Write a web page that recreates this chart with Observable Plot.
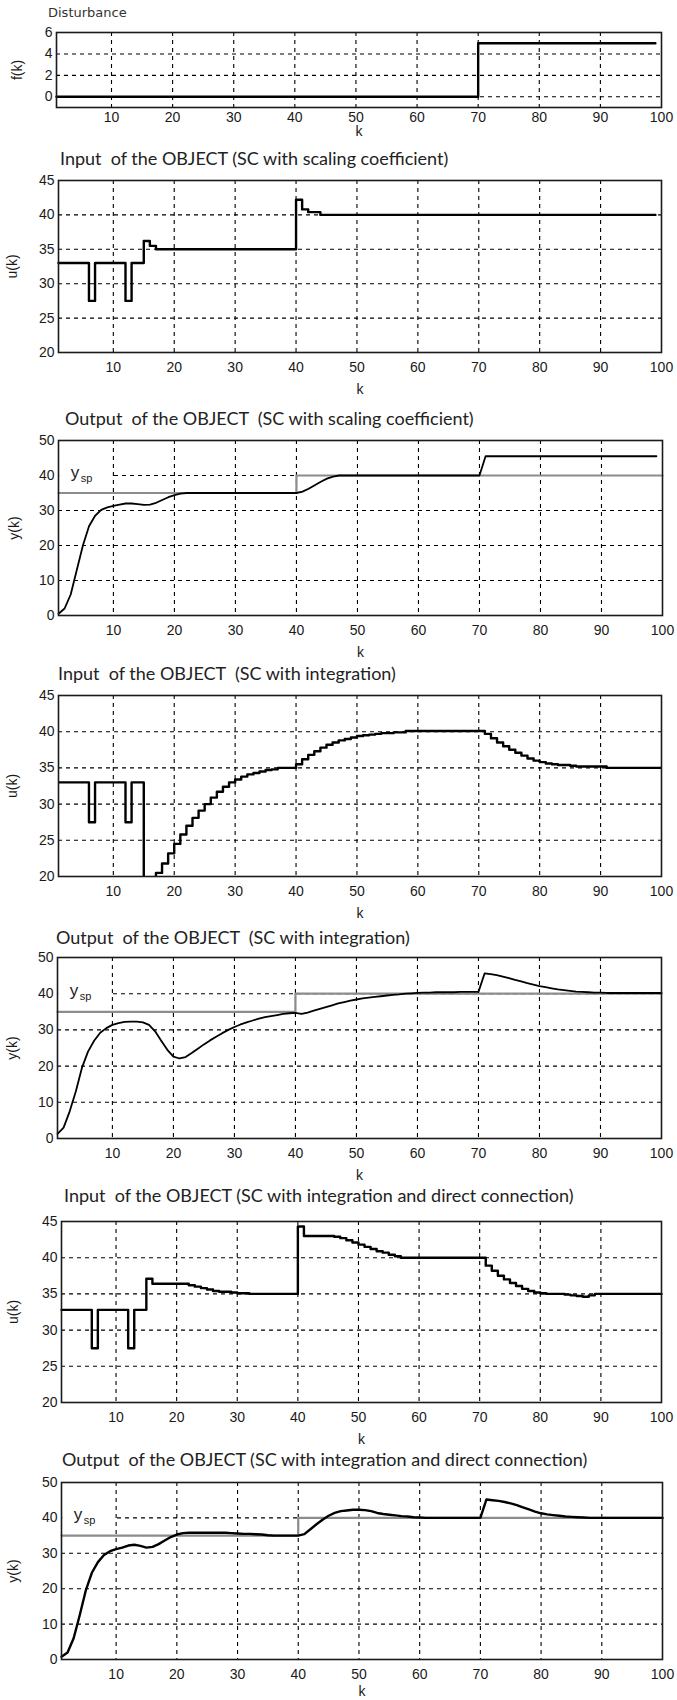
<!DOCTYPE html>
<html><head><meta charset="utf-8">
<script src="https://cdn.jsdelivr.net/npm/d3@7"></script>
<script src="https://cdn.jsdelivr.net/npm/@observablehq/plot@0.6"></script>
<style>
body{margin:0;background:#fff;}
#root{position:relative;width:677px;height:1700px;overflow:hidden;background:#fff;}
.title{position:absolute;font-family:Lato,"Open Sans",sans-serif;font-size:18px;white-space:pre;color:#222;line-height:20px;}
.title.dist{font-family:"DejaVu Sans",sans-serif;font-size:13px;color:#333;line-height:16px;}
svg{position:absolute;left:0;}
</style></head><body><div id="root"></div>
<script>
// ---------- data ----------
const kTicks = [10, 20, 30, 40, 50, 60, 70, 80, 90, 100];
const kGrid = [10, 20, 30, 40, 50, 60, 70, 80, 90];

// Panel 1: disturbance f(k) (stairs, change points)
const distK = [1, 70, 99];
const distF = [0, 5, 5];
const fTicks = [0, 2, 4, 6];

// Panel 2: input, SC with scaling coefficient (stairs, change points)
const u1K = [1, 6, 7, 12, 13, 15, 16, 17, 40, 41, 42, 44, 99];
const u1V = [33, 27.5, 33, 27.5, 33, 36.2, 35.5, 35, 42.2, 40.8, 40.4, 40.0, 40.0];
const uTicks = [20, 25, 30, 35, 40, 45];

// Panel 3: output, SC with scaling coefficient
const y1K = [1,2,3,4,5,6,7,8,9,10,11,12,13,14,15,16,17,18,19,20,21,22,40,41,42,43,44,45,46,47,70,71,99];
const y1V = [0.5,2,6,13,20,25.5,28.5,30.2,30.9,31.3,31.7,32,32,31.8,31.6,31.7,32.2,33,33.8,34.4,34.8,35,35,35.4,36.2,37.2,38.2,39.1,39.7,40,40,45.5,45.5];
const yTicks = [0, 10, 20, 30, 40, 50];

// set point y_sp (stairs)
const spK = [1, 40, 100];
const spV = [35, 40, 40];

// Panel 4: input, SC with integration (stairs, one value per k = 1..100)
const u2V = [33,33,33,33,33,27.5,33,33,33,33,33,27.5,33,33,12,16,
  20.5,21.8,23.2,24.5,25.8,27,28.1,29.1,30,30.9,31.7,32.4,33,33.4,33.8,34.1,34.3,34.5,34.7,34.8,35,35,35,
  35.5,36.2,36.8,37.3,37.8,38.2,38.5,38.8,39.0,39.2,39.4,39.5,39.6,39.7,39.8,39.8,39.9,39.9,
  40.1,40.1,40.1,40.1,40.1,40.1,40.1,40.1,40.1,40.1,40.1,40.1,40.1,
  39.7,39.1,38.5,38.0,37.5,37.1,36.7,36.3,36.0,35.8,35.6,35.5,35.4,35.4,35.3,35.2,35.2,35.2,35.2,35.2,
  35,35,35,35,35,35,35,35,35,35];

// Panel 5: output, SC with integration (one value per k = 1..100)
const y2V = [1.3,3,7.5,13,19.5,24,27,29.2,30.5,31.4,
  31.9,32.2,32.3,32.3,32.1,31.4,29.6,27,24.5,22.6,
  22.1,22.5,23.6,24.8,26,27.1,28.1,29.1,30,30.8,
  31.5,32.1,32.6,33.1,33.5,33.8,34.1,34.4,34.6,34.7,
  34.4,34.8,35.3,35.8,36.3,36.8,37.3,37.7,38.1,38.4,
  38.7,38.9,39.1,39.3,39.5,39.7,39.8,40,40.1,40.2,
  40.3,40.3,40.4,40.4,40.4,40.4,40.5,40.5,40.5,40.5,
  45.6,45.4,45.1,44.7,44.3,43.8,43.4,42.9,42.5,42.1,
  41.8,41.5,41.2,41.0,40.8,40.6,40.5,40.4,40.3,40.3,
  40.2,40.2,40.2,40.2,40.2,40.2,40.2,40.2,40.2,40.2];

// Panel 6: input, SC with integration and direct connection (stairs, change points)
const u3K = [1,6,7,12,13,15,16,22,23,24,25,26,27,29,30,32,
  40,41,46,47,48,49,50,51,52,53,54,55,56,57,
  71,72,73,74,75,76,77,78,79,80,81,84,85,86,87,88,89,100];
const u3V = [32.8,27.5,32.8,27.5,32.8,37.1,36.4,36.2,36.0,35.8,35.6,35.4,35.3,35.2,35.1,35.0,
  44.3,43.0,42.9,42.7,42.4,42.1,41.8,41.5,41.2,40.9,40.7,40.4,40.2,40.0,
  38.9,38.2,37.5,37.0,36.5,36.1,35.7,35.4,35.2,35.1,35.0,34.9,34.8,34.7,34.6,34.8,35.0,35.0];

// Panel 7: output, SC with integration and direct connection (one value per k = 1..100)
const y3V = [0.8,2,6,12.5,19.5,24.5,27.5,29.5,30.6,31.2,
  31.6,32.2,32.4,32.1,31.6,31.8,32.6,33.6,34.6,35.3,
  35.7,35.8,35.8,35.8,35.8,35.8,35.8,35.8,35.7,35.6,
  35.5,35.5,35.4,35.3,35.1,35.0,35.0,35.0,35.0,35.0,
  35.4,36.8,38.2,39.5,40.6,41.4,41.9,42.1,42.3,42.3,
  42.2,41.9,41.4,41.1,40.9,40.7,40.5,40.4,40.2,40.1,
  40,40,40,40,40,40,40,40,40,40,
  45.2,45.0,44.8,44.5,44.1,43.6,43.0,42.4,41.8,41.3,
  41.0,40.8,40.6,40.4,40.3,40.2,40.1,40,40,40,
  40,40,40,40,40,40,40,40,40,40];

// ---------- helpers ----------
const rows = (ks, vs) => ks.map((k, i) => ({k, v: vs[i]}));
const perK = (vs) => vs.map((v, i) => ({k: i + 1, v}));

const root = document.getElementById("root");
const W = 677;
const gridStyle = {stroke: "#000", strokeOpacity: 1, strokeWidth: 1.1, strokeDasharray: "4,4"};

function spMarks() {
  // "y_sp" label with white box hiding the grid behind it
  const lab = [{k: 3, v: 40}];
  return [
    Plot.rect(lab, {x1: 1.2, x2: 9.7, y1: 37.6, y2: 42.4, fill: "white"}),
    Plot.line(rows(spK, spV), {x: "k", y: "v", curve: "step-after", stroke: "#8c8c8c", strokeWidth: 2.2}),
    Plot.text(lab, {x: "k", y: "v", text: () => "y", fontSize: 17, textAnchor: "start", fill: "#222", dy: -3}),
    Plot.text(lab, {x: "k", y: "v", text: () => "sp", fontSize: 11, textAnchor: "start", fill: "#222", dx: 10, dy: 3})
  ];
}

function panel(cfg) {
  const mt = 12, mb = 48;
  const svg = Plot.plot({
    width: W,
    height: (cfg.bottom - cfg.top) + mt + mb,
    marginTop: mt, marginBottom: mb,
    marginLeft: cfg.left, marginRight: W - cfg.right,
    style: {fontFamily: "'Liberation Sans', Arial, sans-serif", fontSize: "14px", color: "#1a1a1a", background: "transparent"},
    x: {domain: [1, 100]},
    y: {domain: cfg.yDomain},
    marks: [
      Plot.gridX({ticks: kGrid, ...gridStyle}),
      Plot.gridY({ticks: cfg.yGrid, ...gridStyle}),
      ...(cfg.pre || []),
      ...cfg.marks,
      Plot.frame({stroke: "#1a1a1a", strokeWidth: 1.6}),
      Plot.axisX({ticks: kTicks, tickFormat: "d", tickSize: 0, tickPadding: cfg.tickPad ?? 10, fontSize: 14, label: "k", labelAnchor: "center", labelArrow: "none", labelOffset: cfg.kOff ?? 41}),
      Plot.axisY({ticks: cfg.yTicks, tickFormat: "d", tickSize: 0, tickPadding: 4, fontSize: 14, label: cfg.yLabel, labelAnchor: "center", labelArrow: "none", labelOffset: cfg.left - cfg.labelX})
    ]
  });
  svg.style.top = (cfg.top - mt) + "px";
  root.appendChild(svg);
  const t = document.createElement("div");
  t.className = "title" + (cfg.cls ? " " + cfg.cls : "");
  t.textContent = cfg.title;
  t.style.left = cfg.titleX + "px";
  t.style.top = (cfg.titleY - (cfg.cls ? 8 : 10)) + "px";
  root.appendChild(t);
}

const lineU = {x: "k", y: "v", curve: "step-after", stroke: "#000", strokeWidth: 2.4};

panel({title: "Disturbance", cls: "dist", titleX: 48, titleY: 13,
  top: 32, bottom: 107, left: 56, right: 661, labelX: 12,
  yDomain: [-1, 6], yTicks: fTicks, yGrid: [0, 2, 4], yLabel: "f(k)", tickPad: 5, kOff: 28,
  marks: [Plot.line(rows(distK, distF), lineU)]});

panel({title: "Input  of the OBJECT (SC with scaling coefficient)", titleX: 60, titleY: 158,
  top: 180, bottom: 352, left: 58, right: 661, labelX: 7,
  yDomain: [20, 45], yTicks: uTicks, yGrid: [25, 30, 35, 40], yLabel: "u(k)",
  marks: [Plot.line(rows(u1K, u1V), lineU)]});

panel({title: "Output  of the OBJECT  (SC with scaling coefficient)", titleX: 65, titleY: 418,
  top: 440, bottom: 615, left: 58, right: 662, labelX: 9,
  yDomain: [0, 50], yTicks: yTicks, yGrid: [10, 20, 30, 40], yLabel: "y(k)",
  pre: spMarks(),
  marks: [Plot.line(rows(y1K, y1V), {x: "k", y: "v", stroke: "#000", strokeWidth: 1.8})]});

panel({title: "Input  of the OBJECT  (SC with integration)", titleX: 58, titleY: 673,
  top: 695, bottom: 876, left: 58, right: 661, labelX: 7,
  yDomain: [20, 45], yTicks: uTicks, yGrid: [25, 30, 35, 40], yLabel: "u(k)",
  marks: [Plot.line(perK(u2V), {...lineU, clip: true})]});

panel({title: "Output  of the OBJECT  (SC with integration)", titleX: 56, titleY: 937,
  top: 957, bottom: 1138, left: 57, right: 661, labelX: 7,
  yDomain: [0, 50], yTicks: yTicks, yGrid: [10, 20, 30, 40], yLabel: "y(k)",
  pre: spMarks(),
  marks: [Plot.line(perK(y2V), {x: "k", y: "v", stroke: "#000", strokeWidth: 1.8})]});

panel({title: "Input  of the OBJECT (SC with integration and direct connection)", titleX: 64, titleY: 1195,
  top: 1221, bottom: 1402, left: 61, right: 661, labelX: 8,
  yDomain: [20, 45], yTicks: uTicks, yGrid: [25, 30, 35, 40], yLabel: "u(k)",
  marks: [Plot.line(rows(u3K, u3V), lineU)]});

panel({title: "Output  of the OBJECT (SC with integration and direct connection)", titleX: 62, titleY: 1459,
  top: 1482, bottom: 1659, left: 61, right: 662, labelX: 8,
  yDomain: [0, 50], yTicks: yTicks, yGrid: [10, 20, 30, 40], yLabel: "y(k)", kOff: 36,
  pre: spMarks(),
  marks: [Plot.line(perK(y3V), {x: "k", y: "v", stroke: "#000", strokeWidth: 2.4})]});
</script>
</body></html>
